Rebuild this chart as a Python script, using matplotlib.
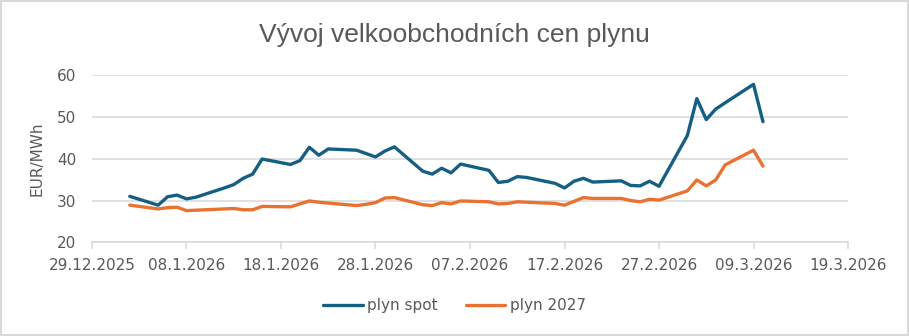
import datetime as dt
import matplotlib
matplotlib.use('Agg')
import matplotlib.pyplot as plt
import matplotlib.dates as mdates
from matplotlib.ticker import FuncFormatter, FixedLocator

# obchodní dny (dny od 29.12.2025)
days = [4, 7, 8, 9, 10, 11, 14, 15, 16, 17, 18, 21, 22, 23, 24, 25,
        28, 29, 30, 31, 32, 35, 36, 37, 38, 39, 42, 43, 44, 45, 46,
        49, 50, 51, 52, 53, 56, 57, 58, 59, 60, 63, 64, 65, 66, 67, 70, 71]

plyn_spot = [31.0, 28.9, 30.9, 31.3, 30.4, 30.8, 33.0, 33.8, 35.3, 36.3, 39.9,
             38.6, 39.5, 42.7, 40.8, 42.3, 42.0, 41.2, 40.4, 41.8, 42.8,
             37.0, 36.3, 37.7, 36.6, 38.7, 37.2, 34.3, 34.6, 35.7, 35.5,
             34.1, 33.0, 34.6, 35.3, 34.4, 34.7, 33.6, 33.5, 34.6, 33.4,
             45.5, 54.3, 49.3, 51.8, 53.3, 57.7, 48.8]

plyn_2027 = [28.9, 28.0, 28.3, 28.4, 27.6, 27.7, 28.0, 28.1, 27.8, 27.8, 28.6,
             28.5, 29.2, 29.9, 29.6, 29.4, 28.8, 29.1, 29.5, 30.6, 30.7,
             29.0, 28.8, 29.5, 29.2, 29.9, 29.7, 29.2, 29.3, 29.7, 29.6,
             29.3, 28.9, 29.8, 30.7, 30.5, 30.5, 30.0, 29.7, 30.3, 30.1,
             32.3, 34.9, 33.5, 34.9, 38.5, 42.0, 38.2]

start = dt.date(2025, 12, 29)
dates = [start + dt.timedelta(days=d) for d in days]
x_ticks = [start + dt.timedelta(days=10 * i) for i in range(9)]

plt.rcParams['font.family'] = ['Liberation Sans Narrow', 'DejaVu Sans']

fig = plt.figure(figsize=(9.09, 3.36), dpi=100)
fig.patch.set_edgecolor('#d9d9d9')
fig.patch.set_linewidth(1.5)
ax = fig.add_axes([0.1012, 0.2783, 0.8317, 0.4994])

ax.plot(dates, plyn_spot, color='#156082', lw=2.4, solid_joinstyle='round',
        solid_capstyle='round', label='plyn spot')
ax.plot(dates, plyn_2027, color='#E97132', lw=2.4, solid_joinstyle='round',
        solid_capstyle='round', label='plyn 2027')

ax.set_ylim(20, 60)
ax.set_yticks([20, 30, 40, 50, 60])
ax.set_xlim(mdates.date2num(x_ticks[0]), mdates.date2num(x_ticks[-1]))
ax.xaxis.set_major_locator(FixedLocator(mdates.date2num(x_ticks)))
ax.xaxis.set_major_formatter(FuncFormatter(
    lambda v, p: (lambda d: f"{d:%d}.{d.month}.{d.year}")(mdates.num2date(v))))

ax.grid(axis='y', color='#d9d9d9', lw=1.1)
ax.set_axisbelow(True)
for s in ['top', 'right', 'left']:
    ax.spines[s].set_visible(False)
ax.spines['bottom'].set_color('#d9d9d9')
ax.spines['bottom'].set_linewidth(1.1)
ax.tick_params(axis='x', colors='#d9d9d9', length=5, width=1.1,
               labelcolor='#595959', labelsize=11, pad=6)
ax.tick_params(axis='y', length=0, labelcolor='#595959', labelsize=11, pad=11.5)

ax.set_ylabel('EUR/MWh', color='#595959', fontsize=11, labelpad=9)
fig.text(0.5, 0.896, 'Vývoj velkoobchodních cen plynu', ha='center', va='center',
         color='#595959', fontsize=19, family=['Liberation Sans', 'DejaVu Sans'])

fig.legend(loc='center', bbox_to_anchor=(0.5, 0.09), ncol=2, frameon=False,
           fontsize=11, labelcolor='#595959', handlelength=2.6, handletextpad=0.3,
           columnspacing=1.8)

fig.savefig('out.png', dpi=100)
